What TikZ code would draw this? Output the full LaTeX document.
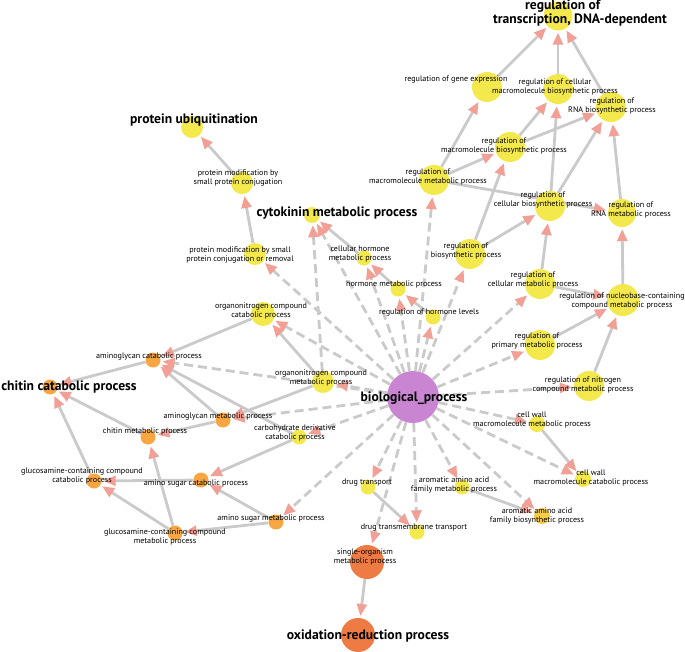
\documentclass[tikz,border=0pt]{standalone}
\usepackage{fontspec}
\setmainfont{PT Sans}
\usetikzlibrary{arrows.meta,backgrounds}
\definecolor{yel}{RGB}{243,232,76}
\definecolor{org}{RGB}{247,166,66}
\definecolor{yorg}{RGB}{246,204,72}
\definecolor{dorg}{RGB}{238,122,68}
\definecolor{purp}{RGB}{201,133,210}
\definecolor{egray}{RGB}{202,202,202}
\definecolor{apink}{RGB}{242,160,150}
\tikzset{
  gn/.style={circle,inner sep=0pt,draw=none},
  lab/.style={inner sep=0pt,align=center,text=black,font=\fontsize{8.1}{8.6}\selectfont},
  blab/.style={inner sep=0pt,align=center,text=black,font=\fontsize{13.6}{12.5}\selectfont\bfseries},
  edge/.style={draw=egray,line width=2.8pt,shorten >=2pt,
    -{Triangle[length=12pt,width=10pt,color=apink,fill=apink]}},
  dedge/.style={edge,dash pattern=on 9pt off 5pt}
}
\begin{document}
\begin{tikzpicture}[x=1pt,y=-1pt]
\useasboundingbox (0,0) rectangle (685,651);
% circles
\node[gn,fill=purp,minimum size=52pt] (BP) at (413,397) {};
\node[gn,fill=yel,minimum size=29pt] (RT) at (558,16) {};
\node[gn,fill=yel,minimum size=30pt] (RGE) at (487,87) {};
\node[gn,fill=yel,minimum size=30pt] (RCMB) at (558,89) {};
\node[gn,fill=yel,minimum size=30pt] (RRNAB) at (611,107) {};
\node[gn,fill=yel,minimum size=30pt] (RMB) at (510,147) {};
\node[gn,fill=yel,minimum size=30pt] (RMM) at (434,180) {};
\node[gn,fill=yel,minimum size=30pt] (RCB) at (550,206) {};
\node[gn,fill=yel,minimum size=28pt] (RRNAM) at (622,213) {};
\node[gn,fill=yel,minimum size=30pt] (RBS) at (470,254) {};
\node[gn,fill=yel,minimum size=30pt] (RCM) at (540,284) {};
\node[gn,fill=yel,minimum size=32pt] (RNB) at (623,300) {};
\node[gn,fill=yel,minimum size=30pt] (RPM) at (540,345) {};
\node[gn,fill=yel,minimum size=30pt] (RNC) at (589,386) {};
\node[gn,fill=yel,minimum size=16pt] (CWMM) at (537,424) {};
\node[gn,fill=yel,minimum size=16pt] (CWMC) at (583,479) {};
\node[gn,fill=yorg,minimum size=16pt] (AAAB) at (542,516) {};
\node[gn,fill=yel,minimum size=15pt] (AAAM) at (462,487) {};
\node[gn,fill=yel,minimum size=15pt] (DT) at (368,487) {};
\node[gn,fill=yel,minimum size=15pt] (DTT) at (417,532) {};
\node[gn,fill=dorg,minimum size=34pt] (SOM) at (367,562) {};
\node[gn,fill=dorg,minimum size=34pt] (OR) at (358,635) {};
\node[gn,fill=yel,minimum size=22pt] (PU) at (192,127) {};
\node[gn,fill=yel,minimum size=22pt] (PMSC) at (242,183) {};
\node[gn,fill=yel,minimum size=16pt] (CK) at (312,215) {};
\node[gn,fill=yel,minimum size=22pt] (PMSCR) at (255,254) {};
\node[gn,fill=yel,minimum size=15pt] (CHM) at (364,258) {};
\node[gn,fill=yel,minimum size=15pt] (HMP) at (398,289) {};
\node[gn,fill=yel,minimum size=15pt] (RHL) at (433,317) {};
\node[gn,fill=yel,minimum size=24pt] (ONCC) at (263,314) {};
\node[gn,fill=yel,minimum size=22pt] (ONCM) at (323,382) {};
\node[gn,fill=org,minimum size=15pt] (AGC) at (153,360) {};
\node[gn,fill=org,minimum size=15pt] (CC) at (50,387) {};
\node[gn,fill=org,minimum size=15pt] (AGM) at (223,420) {};
\node[gn,fill=yel,minimum size=15pt] (CDC) at (299,437) {};
\node[gn,fill=org,minimum size=15pt] (CM) at (148,437) {};
\node[gn,fill=org,minimum size=15pt] (GCC) at (94,481) {};
\node[gn,fill=org,minimum size=15pt] (ASC) at (201,480) {};
\node[gn,fill=org,minimum size=15pt] (ASM) at (276,522) {};
\node[gn,fill=org,minimum size=15pt] (GCM) at (175,533) {};
% labels
\node[blab] (lBP) at (414,398) {biological\_process};
\node[blab,align=left] (lRT) at (580,13) {\hspace*{32pt}regulation of\\transcription, DNA-dependent};
\node[lab] (lRGE) at (456,79) {regulation of gene expression};
\node[lab] (lRCMB) at (555,87) {regulation of cellular\\macromolecule biosynthetic process};
\node[lab] (lRRNAB) at (612,106) {regulation of\\RNA biosynthetic process};
\node[lab] (lRMB) at (504,146) {regulation of\\macromolecule biosynthetic process};
\node[lab] (lRMM) at (428,177) {regulation of\\macromolecule metabolic process};
\node[lab] (lRCB) at (543,200) {regulation of\\cellular biosynthetic process};
\node[lab] (lRRNAM) at (631,210) {regulation of\\RNA metabolic process};
\node[lab] (lRBS) at (466,251) {regulation of\\biosynthetic process};
\node[lab] (lRCM) at (533,280) {regulation of\\cellular metabolic process};
\node[lab] (lRNB) at (622,301) {regulation of nucleobase-containing\\compound metabolic process};
\node[lab] (lRPM) at (537,341) {regulation of\\primary metabolic process};
\node[lab] (lRNC) at (583,385) {regulation of nitrogen\\compound metabolic process};
\node[lab] (lCWMM) at (532,420) {cell wall\\macromolecule metabolic process};
\node[lab] (lCWMC) at (591,478) {cell wall\\macromolecule catabolic process};
\node[lab] (lAAAB) at (537,516) {aromatic amino acid\\family biosynthetic process};
\node[lab] (lAAAM) at (454,485) {aromatic amino acid\\family metabolic process};
\node[lab] (lDT) at (367,483) {drug transport};
\node[lab] (lDTT) at (414,528) {drug transmembrane transport};
\node[lab] (lSOM) at (365,557) {single-organism\\metabolic process};
\node[blab] (lOR) at (368,636) {oxidation-reduction process};
\node[blab] (lPU) at (194,120) {protein ubiquitination};
\node[lab] (lPMSC) at (238,178) {protein modification by\\small protein conjugation};
\node[blab] (lCK) at (337,213) {cytokinin metabolic process};
\node[lab] (lPMSCR) at (240,255) {protein modification by small\\protein conjugation or removal};
\node[lab] (lCHM) at (360,254) {cellular hormone\\metabolic process};
\node[lab] (lHMP) at (394,284) {hormone metabolic process};
\node[lab] (lRHL) at (429,312) {regulation of hormone levels};
\node[lab] (lONCC) at (261,311) {organonitrogen compound\\catabolic process};
\node[lab] (lONCM) at (321,378) {organonitrogen compound\\metabolic process};
\node[lab] (lAGC) at (149,356) {aminoglycan catabolic process};
\node[blab] (lCC) at (69,387) {chitin catabolic process};
\node[lab] (lAGM) at (218,416) {aminoglycan metabolic process};
\node[lab] (lCDC) at (295,433) {carbohydrate derivative\\catabolic process};
\node[lab] (lCM) at (145,431) {chitin metabolic process};
\node[lab] (lGCC) at (82,476) {glucosamine-containing compound\\catabolic process};
\node[lab] (lASC) at (196,483) {amino sugar catabolic process};
\node[lab] (lASM) at (271,518) {amino sugar metabolic process};
\node[lab] (lGCM) at (165,537) {glucosamine-containing compound\\metabolic process};
% edges
\begin{scope}[on background layer]
\foreach \a/\b in {RGE/RT,RCMB/RT,RRNAB/RT,RMM/RGE,RMB/RCMB,RMB/RRNAB,RMM/RMB,
  RCB/RCMB,RCB/RRNAB,RRNAM/RRNAB,RMM/RRNAM,RBS/RMB,RBS/RCB,RCM/RCB,RNB/RRNAM,
  RCM/RNB,RPM/RNB,RNC/RNB,CWMM/CWMC,AAAM/AAAB,DT/DTT,SOM/OR,RHL/HMP,HMP/CHM,
  CHM/CK,PMSCR/PMSC,PMSC/PU,ONCM/ONCC,ONCC/AGC,AGM/AGC,CDC/AGC,AGC/CC,CM/CC,
  GCC/CC,AGM/CM,ONCM/AGM,GCM/CM,GCM/GCC,ASC/GCC,ASM/ASC,ASM/GCM,CDC/ASC}
  \draw[edge] (\a) -- (\b);
\foreach \b in {RMM,RBS,RCM,RPM,RNC,CWMM,CWMC,AAAB,AAAM,DT,DTT,SOM,ASM,CDC,
  AGM,AGC,ONCM,ONCC,PMSCR,CK,CHM,HMP,RHL}
  \draw[dedge] (BP) -- (\b);
\draw[dedge] (ONCM) -- (CK);
\end{scope}
\end{tikzpicture}
\end{document}
